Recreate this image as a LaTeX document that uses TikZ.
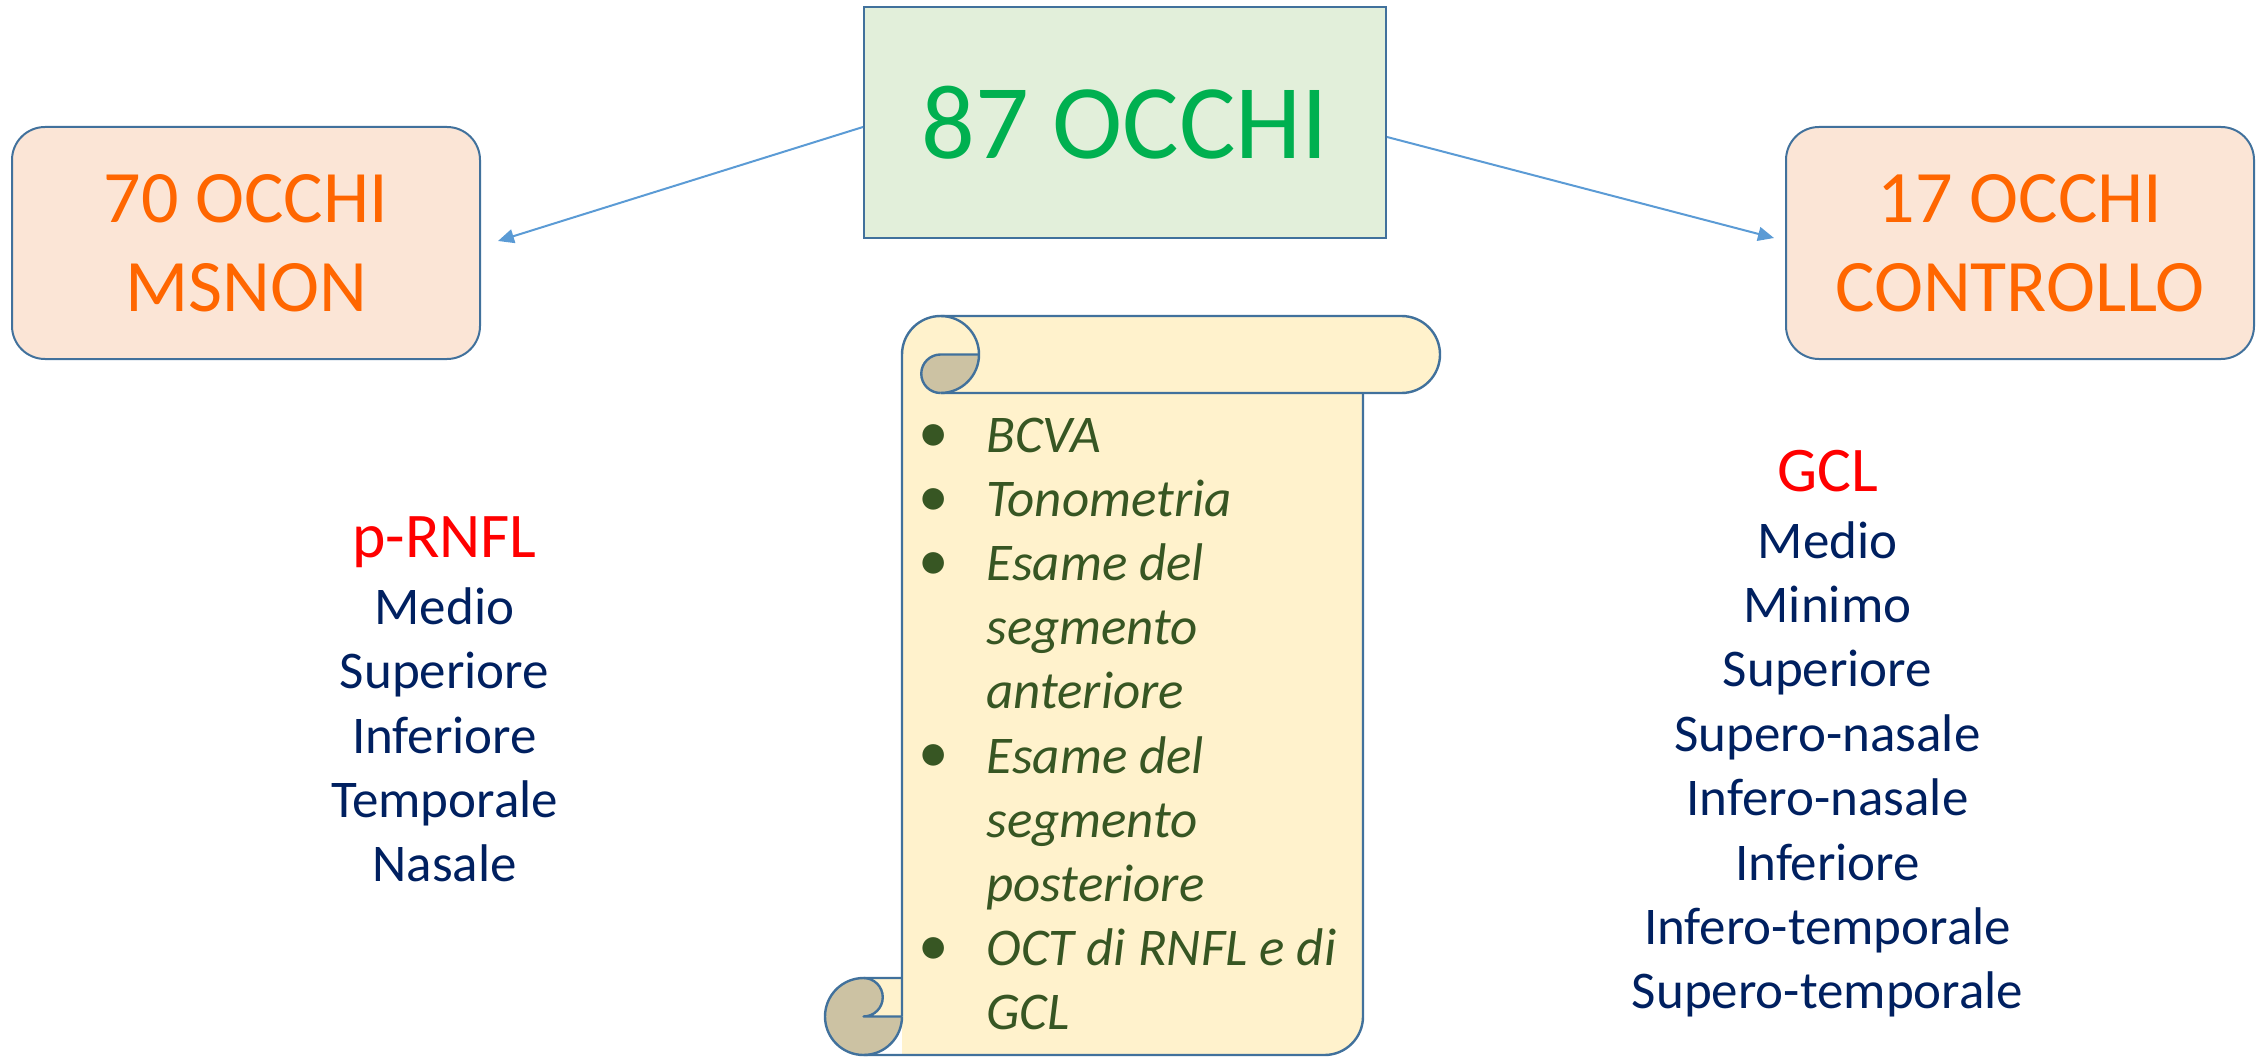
\documentclass[tikz,border=0pt]{standalone}
\usepackage{fontspec}
\setmainfont{Carlito}
\usetikzlibrary{arrows.meta,calc}

\definecolor{boxline}{HTML}{41719C}
\definecolor{rootfill}{HTML}{E2EFDA}
\definecolor{rootgreen}{HTML}{00B050}
\definecolor{groupfill}{HTML}{FBE5D6}
\definecolor{grouporange}{HTML}{FF6600}
\definecolor{linkblue}{HTML}{5B9BD5}
\definecolor{paper}{HTML}{FFF2CC}
\definecolor{curlshade}{HTML}{CCC2A3}
\definecolor{examgreen}{HTML}{375623}
\definecolor{listhead}{HTML}{FF0000}
\definecolor{listitem}{HTML}{002060}

% bullet centred on the current point, then the text indent
\newcommand\scrollbul{\makebox[0pt]{\upshape\scalebox{1.15}{\textbullet}}\hspace{26.5pt}}
\newcommand\scrollind{\hspace{26.5pt}}

\begin{document}
\begin{tikzpicture}[x=0.5pt,y=0.5pt,
  rootbox/.style={draw=boxline, line width=1pt, fill=rootfill,
    minimum width=261pt, minimum height=115.5pt, inner sep=0pt,
    text=rootgreen, font=\fontsize{53}{64}\selectfont},
  groupbox/.style={draw=boxline, line width=1pt, fill=groupfill,
    rounded corners=16.5pt, minimum width=234pt, minimum height=116pt,
    inner sep=0pt, align=center, text=grouporange,
    font=\fontsize{37}{44.5}\selectfont},
  link/.style={draw=linkblue, line width=1pt,
    -{Triangle[length=8pt,width=7pt]}},
  scrollline/.style={draw=boxline, line width=1.2pt, line join=round},
  listtext/.style={anchor=base, inner sep=0pt, text=listitem,
    font=\fontsize{26.5}{32.2}\selectfont},
]
\useasboundingbox (0,0) rectangle (2259,1057);

% top and side boxes
\node[rootbox] (root) at (1125,934.5) {87 OCCHI};
\node[groupbox] (msnon) at (246,814) {70 OCCHI\\MSNON};
\node[groupbox] (ctrl) at (2020,814) {17 OCCHI\\CONTROLLO};

\draw[link] ($(root.west)+(0,-4.5)$) -- ($(msnon.east)+(17,2)$);
\draw[link] ($(root.east)+(0,-14.5)$) -- ($(ctrl.west)+(-11,5)$);

% scroll: paper
\fill[paper] (902,2) -- (902,702.5) arc[start angle=180,end angle=90,radius=38.5]
  -- (1401.5,741) arc[start angle=90,end angle=-90,radius=38.5]
  -- (1363,664) -- (1363,40.5) arc[start angle=0,end angle=-90,radius=38.5]
  -- (863.5,2) -- cycle;
\fill[paper] (863.5,40.5) rectangle (902,79);
% scroll: shaded roll ends
\fill[curlshade] (979,702.5) arc[start angle=0,end angle=-90,radius=38.5]
  arc[start angle=270,end angle=90,radius=19.25] -- cycle;
\fill[curlshade] (863.5,79) arc[start angle=90,end angle=360,radius=38.5]
  -- (863.5,40.5) arc[start angle=-90,end angle=90,radius=19.25] -- cycle;
% scroll: outlines
\draw[scrollline] (902,40.5) -- (902,702.5) arc[start angle=180,end angle=90,radius=38.5]
  -- (1401.5,741) arc[start angle=90,end angle=-90,radius=38.5] -- (940.5,664);
\draw[scrollline] (940.5,741) arc[start angle=90,end angle=-90,radius=38.5];
\draw[scrollline] (979,702.5) -- (940.5,702.5) arc[start angle=90,end angle=270,radius=19.25];
\draw[scrollline] (1363,664) -- (1363,40.5) arc[start angle=0,end angle=-90,radius=38.5]
  -- (863.5,2) arc[start angle=-90,end angle=-270,radius=38.5] -- (902,79);
\draw[scrollline] (902,40.5) arc[start angle=0,end angle=-90,radius=38.5];
\draw[scrollline] (863.5,79) arc[start angle=90,end angle=-90,radius=19.25] -- (902,40.5);

% scroll text
\node[anchor=base west, inner sep=0pt, text=examgreen,
  font=\fontsize{26.5}{32.1}\selectfont\itshape] (exams) at (933,605)
  {\begin{tabular}[t]{@{}l@{}}
   \scrollbul BCVA\\
   \scrollbul Tonometria\\
   \scrollbul Esame del\\
   \scrollind segmento\\
   \scrollind anteriore\\
   \scrollbul Esame del\\
   \scrollind segmento\\
   \scrollind posteriore\\
   \scrollbul OCT di RNFL e di\\
   \scrollind GCL
   \end{tabular}};

% parameter lists
\node[listtext] (rnfl) at (444.5,500)
  {\begin{tabular}[t]{@{}c@{}}
   {\color{listhead}\fontsize{31.8}{32.2}\selectfont p-RNFL}\\[1.4pt]
   Medio\\ Superiore\\ Inferiore\\ Temporale\\ Nasale
   \end{tabular}};
\node[listtext] (gcl) at (1827.5,566)
  {\begin{tabular}[t]{@{}c@{}}
   {\color{listhead}\fontsize{31.8}{32.2}\selectfont GCL}\\[1.3pt]
   Medio\\ Minimo\\ Superiore\\ Supero-nasale\\ Infero-nasale\\
   Inferiore\\ Infero-temporale\\ Supero-temporale
   \end{tabular}};
\end{tikzpicture}
\end{document}
